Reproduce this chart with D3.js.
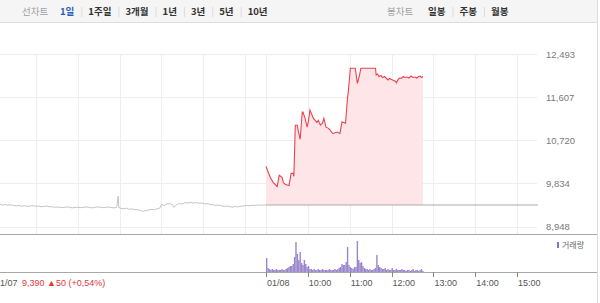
<!DOCTYPE html>
<html><head><meta charset="utf-8">
<script src="https://cdn.jsdelivr.net/npm/d3@7"></script>
<style>body{margin:0;background:#fff}svg{display:block}</style>
</head><body><svg id="c" width="600" height="303"></svg>
<script>
// ---------------- data ----------------
const lineTabTitle = "선차트";
const periodTabs = ["1일","1주일","3개월","1년","3년","5년","10년"];
const candleTabTitle = "봉차트";
const candleTabs = ["일봉","주봉","월봉"];
const yTicks = [8948, 9834, 10720, 11607, 12493];
const prevClose = 9390;
const dayLabels = ["01/07","01/08"];
const hourLabels = ["10:00","11:00","12:00","13:00","14:00","15:00"];
const prevSummary = "9,390 ▲50 (+0,54%)";
const volumeLegend = "거래량";

// 01/07 (previous day) price line
const prevTimes = ["09:00","09:04","09:08","09:12","09:16","09:20","09:24","09:28","09:32","09:36","09:40","09:44","09:48","09:52","09:56",
"10:00","10:04","10:08","10:12","10:16","10:20","10:24","10:28","10:32","10:36","10:40","10:44","10:48","10:52","10:56",
"11:00","11:04","11:08","11:12","11:16","11:20","11:24","11:28","11:32","11:36","11:40","11:44","11:48","11:52","11:56","11:58","11:59",
"12:02","12:06","12:10","12:14","12:18","12:22","12:26","12:30","12:34","12:38","12:42","12:46","12:50","12:54","12:58",
"13:00","13:04","13:08","13:12","13:16","13:18","13:22","13:26","13:30","13:34","13:38","13:42","13:46","13:50","13:54","13:58",
"14:02","14:06","14:10","14:14","14:18","14:22","14:26","14:30","14:34","14:38","14:42","14:46","14:50","14:54","14:58",
"15:02","15:06","15:10","15:14","15:18","15:22","15:26","15:30"];
const prevPrices = [9420,9400,9410,9390,9400,9385,9395,9380,9370,9380,9365,9375,9360,9370,9375,
9365,9370,9355,9360,9370,9350,9355,9340,9350,9335,9340,9350,9345,9330,9340,
9345,9335,9340,9350,9345,9330,9340,9350,9345,9335,9340,9350,9340,9330,9345,9570,9340,
9320,9310,9325,9300,9310,9295,9290,9280,9260,9275,9290,9300,9295,9310,9330,
9400,9380,9410,9420,9395,9340,9400,9420,9410,9440,9430,9445,9430,9440,9425,9430,
9410,9420,9400,9395,9380,9390,9370,9360,9370,9355,9345,9360,9350,9365,9370,
9380,9375,9385,9380,9390,9385,9390,9390];

// 01/08 (today) price line
const todayTimes = ["09:00","09:06","09:10","09:16","09:19","09:23","09:25","09:28","09:33","09:36","09:39","09:40","09:42","09:45","09:46","09:49",
"09:52","09:53","09:56","09:59","10:01","10:03","10:06","10:08","10:13","10:15","10:18","10:21","10:23","10:26","10:29","10:32","10:35","10:36",
"10:42","10:46","10:49","10:54","10:57","10:58","11:01","11:08","11:11","11:14","11:16","11:37","11:38","11:40","11:42","11:45","11:47","11:50",
"11:52","11:55","11:57","12:00","12:03","12:06","12:07","12:10","12:12","12:14","12:17","12:19","12:22","12:25","12:28","12:31","12:34","12:36",
"12:39","12:41","12:43","12:45"];
const todayPrices = [10180,9960,9860,9770,10000,9960,9850,9810,9790,10040,10040,9980,11030,11030,10930,10740,
11300,11300,11170,10990,11130,11340,11240,11170,11090,11130,11030,11070,11170,10990,10970,10930,10870,10860,
10890,10860,11100,11070,11610,11720,12200,12200,11890,12050,12200,12200,12060,12080,12030,12050,12010,12030,
12000,11960,11990,11970,11950,11930,11900,11980,12000,11990,12030,12010,12020,12000,12040,12010,12020,12000,
12030,12040,12010,12030];

// 01/08 volume, 2-minute bars starting 09:00 (thousand shares)
const volumeStart = "09:00";
const volume2min = [14,4,3,2,3,2,2,3,2,2,2,3,2,2,3,4,5,6,6,8,15,30,18,12,20,9,7,12,8,5,
6,3,3,2,3,2,2,3,2,2,3,2,2,2,2,3,2,2,2,3,2,3,4,5,8,7,7,10,25,7,
5,4,3,5,5,31,12,9,10,6,4,3,3,2,3,2,2,3,4,17,7,5,4,3,3,4,2,3,2,2,
4,2,2,3,2,2,2,3,2,2,1,2,2,1,2,3,1,2,2,1,2,3,1];

// ---------------- drawing ----------------
const svg = d3.select("#c");
const FONT = "'Liberation Sans','Noto Sans CJK KR',sans-serif";
const KFONT = "'Noto Sans CJK KR','Liberation Sans',sans-serif";

function toMin(t, day){ const [h,m]=t.split(":").map(Number); return day*390 + (h-9)*60 + m; }

const x = d3.scaleLinear().domain([0, 780]).range([-6, 538]);
const y = d3.scaleLinear().domain([8948, 12493]).range([226.5, 54]);
const yv = d3.scaleLinear().domain([0, 37]).range([272, 235]);

// header
svg.append("rect").attr("x",0).attr("y",0).attr("width",597).attr("height",22).attr("fill","#f5f5f6");
svg.append("line").attr("x1",0).attr("x2",597).attr("y1",22.5).attr("y2",22.5).attr("stroke","#dcdcdc");
svg.append("line").attr("x1",597.5).attr("x2",597.5).attr("y1",0).attr("y2",303).attr("stroke","#dcdcdc");

function tabRow(title, titleX, tabs, startX, activeIdx){
  svg.append("text").attr("x",titleX).attr("y",15).attr("font-family",KFONT).attr("font-size",9.5)
    .attr("fill","#a0a0a0").text(title);
  let cx = startX;
  tabs.forEach((t,i)=>{
    const tx = svg.append("text").attr("x",cx).attr("y",15).attr("font-family",KFONT).attr("font-size",9.5)
      .attr("font-weight","bold").attr("fill", i===activeIdx ? "#2b5cb8" : "#333").text(t);
    const w = tx.node().getComputedTextLength();
    cx += w + 7;
    if(i < tabs.length-1){
      svg.append("line").attr("x1",cx+0.5).attr("x2",cx+0.5).attr("y1",7).attr("y2",17).attr("stroke","#ddd");
      cx += 7;
    }
  });
}
tabRow(lineTabTitle, 22, periodTabs, 60, 0);
tabRow(candleTabTitle, 387, candleTabs, 428, -1);

// grid
const g = svg.append("g");
g.selectAll("line.h").data(yTicks).join("line").attr("class","h")
  .attr("x1",0).attr("x2",537).attr("y1",d=>Math.round(y(d))+0.5).attr("y2",d=>Math.round(y(d))+0.5)
  .attr("stroke","#eeeeee");
const vGridTimes = [["10:00",0],["11:00",0],["12:00",0],["13:00",0],["14:00",0],["15:00",0],
                    ["09:00",1],["10:00",1],["11:00",1],["12:00",1],["13:00",1],["14:00",1],["15:00",1]];
g.selectAll("line.v").data(vGridTimes).join("line").attr("class","v")
  .attr("x1",d=>Math.round(x(toMin(d[0],d[1])))+0.5).attr("x2",d=>Math.round(x(toMin(d[0],d[1])))+0.5)
  .attr("y1",54).attr("y2",234).attr("stroke","#eeeeee");

// y labels
svg.selectAll("text.yl").data(yTicks).join("text").attr("class","yl")
  .attr("x",546).attr("y",d=>y(d)+3.5).attr("font-family",FONT).attr("font-size",9.5)
  .attr("fill","#7a7a7a").text(d=>d3.format(",")(d));

// today area + line
const today = todayTimes.map((t,i)=>({m:toMin(t,1), p:todayPrices[i]}));
svg.append("path").datum(today)
  .attr("d", d3.area().x(d=>x(d.m)).y0(y(prevClose)).y1(d=>y(d.p)))
  .attr("fill","#fde5e8");
// prev close reference line
svg.append("line").attr("x1",x(toMin("09:00",1))).attr("x2",538)
  .attr("y1",y(prevClose)).attr("y2",y(prevClose)).attr("stroke","#aaaaaa").attr("stroke-width",1);
svg.append("path").datum(today)
  .attr("d", d3.line().x(d=>x(d.m)).y(d=>y(d.p)))
  .attr("fill","none").attr("stroke","#e9444f").attr("stroke-width",1.1);

// previous day line
const prev = prevTimes.map((t,i)=>({m:toMin(t,0), p:prevPrices[i]}));
svg.append("path").datum(prev)
  .attr("d", d3.line().x(d=>x(d.m)).y(d=>y(d.p)))
  .attr("fill","none").attr("stroke","#c4c4c4").attr("stroke-width",1);

// panel separators
svg.append("line").attr("x1",0).attr("x2",597).attr("y1",234.5).attr("y2",234.5).attr("stroke","#a8a8a8");
svg.append("line").attr("x1",0).attr("x2",597).attr("y1",272.5).attr("y2",272.5).attr("stroke","#a8a8a8");

// volume
const v0 = toMin(volumeStart,1);
svg.selectAll("rect.vol").data(volume2min).join("rect").attr("class","vol")
  .attr("x",(d,i)=>x(v0+2*i)).attr("width",(x(2)-x(0)))
  .attr("y",d=>yv(d)).attr("height",d=>272-yv(d)).attr("fill","#9a86cc");

// volume legend
svg.append("rect").attr("x",557).attr("y",242).attr("width",2).attr("height",6).attr("fill","#8a72c8");
svg.append("text").attr("x",562).attr("y",248).attr("font-family",KFONT).attr("font-size",8)
  .attr("fill","#666").text(volumeLegend);

// x axis ticks & labels
const xTicks = [{t:"09:00",d:0,l:dayLabels[0]},{t:"09:00",d:1,l:dayLabels[1]}]
  .concat(hourLabels.map(h=>({t:h,d:1,l:h})));
svg.selectAll("line.xt").data(xTicks.slice(1)).join("line").attr("class","xt")
  .attr("x1",d=>Math.round(x(toMin(d.t,d.d)))+0.5).attr("x2",d=>Math.round(x(toMin(d.t,d.d)))+0.5)
  .attr("y1",272).attr("y2",277).attr("stroke","#888");
svg.selectAll("text.xl").data(xTicks).join("text").attr("class","xl")
  .attr("x",d=>x(toMin(d.t,d.d))+1).attr("y",286).attr("font-family",FONT).attr("font-size",9)
  .attr("fill","#555").text(d=>d.l);

svg.append("text").attr("x",22).attr("y",286).attr("font-family",FONT).attr("font-size",9)
  .attr("fill","#e0363e").text(prevSummary);
</script></body></html>
